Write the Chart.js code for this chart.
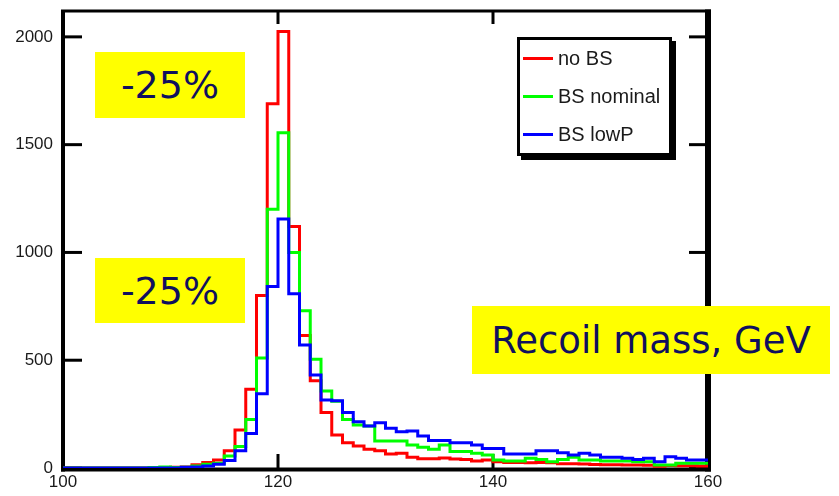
<!DOCTYPE html>
<html>
<head>
<meta charset="utf-8">
<title>Recoil mass</title>
<script src="https://cdn.jsdelivr.net/npm/chart.js@4.4.1/dist/chart.umd.min.js"></script>
<style>
  body { margin: 0; background: #fff; }
  #wrap { position: relative; width: 839px; height: 496px; }
  .note {
    position: absolute; background: #ffff00; color: #10105e;
    font-family: 'DejaVu Sans', sans-serif;
    display: flex; align-items: center; justify-content: center;
    white-space: nowrap;
  }
  #legend {
    position: absolute; left: 517px; top: 37px; width: 149px; height: 113px;
    border: 3px solid #000; background: #fff; box-shadow: 4px 4px 0 #000;
    font-family: 'Liberation Sans', Arial, sans-serif; font-size: 20px; color: #1a1a1a;
  }
  #legend .row { position: absolute; left: 3px; height: 20px; display: flex; align-items: center; }
  #legend .swatch { width: 30px; height: 3px; margin-right: 5px; }
</style>
</head>
<body>
<div id="wrap">
  <canvas id="recoil" width="839" height="496"></canvas>
  <div id="legend"></div>
  <div class="note" style="left:95px; top:52px; width:150px; height:66px; font-size:38px;">-25%</div>
  <div class="note" style="left:95px; top:258px; width:150px; height:65px; font-size:38px;">-25%</div>
  <div class="note" style="left:472px; top:306px; width:358px; height:68px; font-size:37px;">Recoil mass, GeV</div>
</div>
<script>
// histogram binning: 1 GeV bins from 100 to 160
const binStart = 100;
const binWidth = 1;

// events per bin, beamstrahlung variants
const noBS = [
  0, 0, 0, 0, 0, 0, 0, 0, 0, 2,
  3, 5, 15, 26, 37, 80, 176, 365, 800, 1690,
  2025, 1120, 615, 405, 257, 153, 117, 102, 87, 80,
  65, 68, 50, 43, 43, 46, 42, 40, 32, 37,
  29, 25, 25, 24, 25, 24, 20, 20, 18, 16,
  15, 15, 14, 14, 13, 8, 12, 10, 10, 9
];
const bsNominal = [
  0, 0, 0, 0, 0, 0, 0, 0, 2, 5,
  2, 4, 9, 17, 22, 56, 100, 225, 510, 1200,
  1555, 1000, 730, 504, 357, 310, 225, 200, 195, 125,
  125, 125, 107, 96, 87, 107, 76, 76, 68, 60,
  37, 32, 32, 45, 40, 29, 40, 50, 37, 37,
  32, 32, 32, 29, 29, 14, 14, 22, 22, 22
];
const bsLowP = [
  0, 0, 0, 0, 0, 0, 0, 0, 0, 0,
  0, 3, 5, 9, 17, 35, 80, 160, 345, 842,
  1155, 808, 571, 431, 315, 312, 257, 215, 195, 210,
  184, 168, 172, 148, 127, 127, 117, 117, 107, 91,
  91, 65, 65, 65, 80, 80, 71, 60, 68, 60,
  50, 50, 45, 40, 45, 29, 52, 45, 37, 37
];

const seriesNames = ['no BS', 'BS nominal', 'BS lowP'];
const seriesColors = ['#ff0000', '#00ff00', '#0000ff'];
const yTicks = [0, 500, 1000, 1500, 2000];
const xTicks = [100, 120, 140, 160];

function histPoints(values) {
  const pts = values.map((v, i) => ({ x: binStart + i * binWidth, y: v }));
  pts.push({ x: binStart + values.length * binWidth, y: values[values.length - 1] });
  return pts;
}

const axisFont = { family: "'Liberation Sans', Arial, sans-serif", size: 17 };

// frame with inward tick marks on all four sides
const framePlugin = {
  id: 'frame',
  beforeDatasetsDraw(chart) {
    const { ctx, chartArea: a, scales: { x, y } } = chart;
    ctx.save();
    ctx.strokeStyle = '#000';
    ctx.lineCap = 'butt';
    ctx.lineWidth = 4;
    ctx.beginPath(); ctx.moveTo(a.left, a.top - 1); ctx.lineTo(a.left, a.bottom + 3.5); ctx.stroke();
    ctx.beginPath(); ctx.moveTo(a.left - 2, a.bottom + 1.5); ctx.lineTo(a.right + 3, a.bottom + 1.5); ctx.stroke();
    ctx.lineWidth = 3;
    ctx.beginPath(); ctx.moveTo(a.left - 2, a.top); ctx.lineTo(a.right + 3, a.top); ctx.stroke();
    ctx.lineWidth = 6;
    ctx.beginPath(); ctx.moveTo(a.right, a.top - 1.5); ctx.lineTo(a.right, a.bottom + 3.5); ctx.stroke();
    ctx.lineWidth = 3;
    yTicks.forEach(v => {
      const py = y.getPixelForValue(v);
      ctx.beginPath(); ctx.moveTo(a.left, py); ctx.lineTo(a.left + 19, py); ctx.stroke();
      ctx.beginPath(); ctx.moveTo(a.right, py); ctx.lineTo(a.right - 19, py); ctx.stroke();
    });
    xTicks.slice(1, -1).forEach(v => {
      const px = x.getPixelForValue(v);
      ctx.beginPath(); ctx.moveTo(px, a.bottom); ctx.lineTo(px, a.bottom - 14); ctx.stroke();
      ctx.beginPath(); ctx.moveTo(px, a.top); ctx.lineTo(px, a.top + 13); ctx.stroke();
    });
    ctx.restore();
  }
};

const datasets = [noBS, bsNominal, bsLowP].map((vals, i) => ({
  label: seriesNames[i],
  data: histPoints(vals),
  borderColor: seriesColors[i],
  borderWidth: 3,
  stepped: 'before',
  pointRadius: 0,
  fill: false,
  order: 2 - i
}));

new Chart(document.getElementById('recoil'), {
  type: 'line',
  data: { datasets },
  options: {
    responsive: false,
    animation: false,
    layout: { padding: { top: 11, right: 131, left: 0, bottom: 0 } },
    plugins: { legend: { display: false }, tooltip: { enabled: false } },
    scales: {
      x: {
        type: 'linear', min: 100, max: 160,
        grid: { display: false, drawTicks: false }, border: { display: false },
        afterBuildTicks: s => { s.ticks = xTicks.map(v => ({ value: v })); },
        afterFit: s => { s.height = 28; s.paddingLeft = 0; s.paddingRight = 0; },
        ticks: { color: '#1a1a1a', font: axisFont, padding: 4, maxRotation: 0, callback: v => String(v) }
      },
      y: {
        min: 0, max: 2120,
        grid: { display: false, drawTicks: false }, border: { display: false },
        afterBuildTicks: s => { s.ticks = yTicks.map(v => ({ value: v })); },
        afterFit: s => { s.width = 63; s.paddingTop = 0; s.paddingBottom = 0; },
        ticks: { color: '#1a1a1a', font: axisFont, padding: 10, callback: v => String(v) }
      }
    }
  },
  plugins: [framePlugin]
});

// legend box built from the series names and colours
const legend = document.getElementById('legend');
seriesNames.forEach((name, i) => {
  const row = document.createElement('div');
  row.className = 'row';
  row.style.top = (8 + i * 38) + 'px';
  row.innerHTML = '<span class="swatch" style="background:' + seriesColors[i] + '"></span><span>' + name + '</span>';
  legend.appendChild(row);
});
</script>
</body>
</html>
